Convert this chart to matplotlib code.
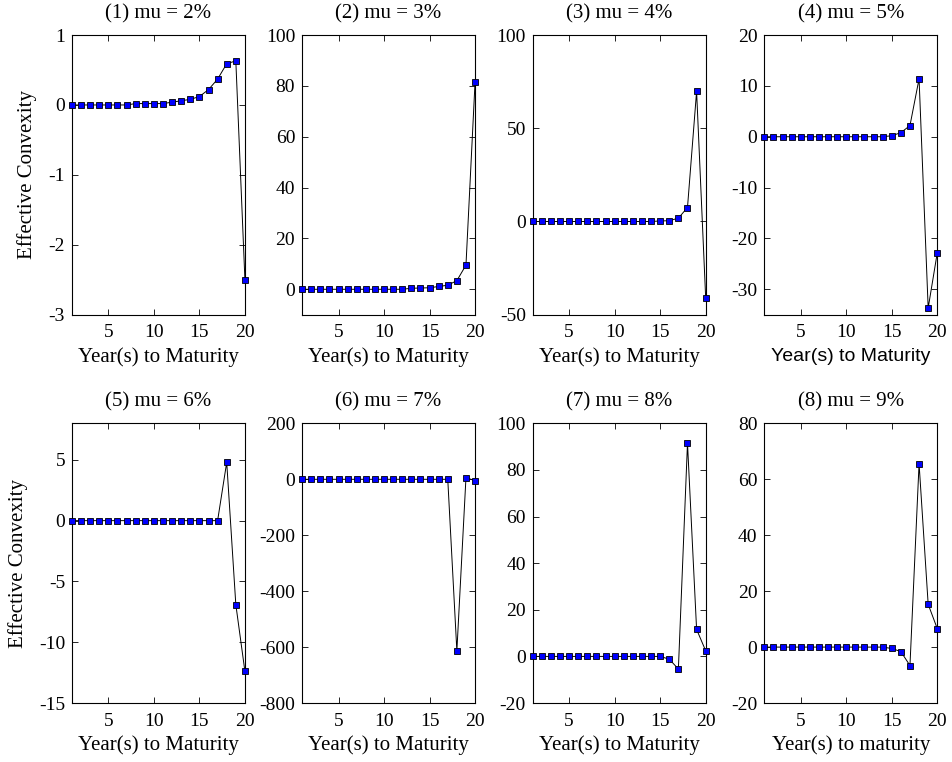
import matplotlib
matplotlib.use("Agg")
import matplotlib.pyplot as plt
import numpy as np

plt.rcParams['font.family'] = ['Liberation Serif', 'DejaVu Serif']
plt.rcParams['font.size'] = 14
plt.rcParams['axes.unicode_minus'] = False

years = list(range(1, 21))
titles = ["(1) mu = 2%", "(2) mu = 3%", "(3) mu = 4%", "(4) mu = 5%",
          "(5) mu = 6%", "(6) mu = 7%", "(7) mu = 8%", "(8) mu = 9%"]

conv_2 = [0, 0, 0, 0, 0, 0, 0, 0.02, 0.02, 0.02, 0.02, 0.04, 0.06, 0.08,
          0.12, 0.22, 0.37, 0.59, 0.63, -2.50]
conv_3 = [0, 0, 0, 0, 0, 0, 0, 0, 0, 0, 0, 0, 0.4, 0.5, 0.6, 1.1, 1.6,
          3.4, 9.5, 81.6]
conv_4 = [0, 0, 0, 0, 0, 0, 0, 0, 0, 0, 0, 0, 0, 0, 0.3, 0.4, 1.8, 7.5,
          69.8, -41.2]
conv_5 = [0, 0, 0, 0, 0, 0, 0, 0, 0, 0, 0, 0, 0, 0, 0.2, 0.8, 2.2, 11.4,
          -33.7, -22.8]
conv_6 = [0] * 17 + [4.8, -6.9, -12.4]
conv_7 = [0] * 17 + [-614, 6, -5]
conv_8 = [0] * 15 + [-1.2, -5.4, 91.5, 11.6, 2.4]
conv_9 = [0] * 14 + [-0.5, -1.6, -6.6, 65.6, 15.3, 6.6]

series = [conv_2, conv_3, conv_4, conv_5, conv_6, conv_7, conv_8, conv_9]
ylims = [(-3, 1), (-10, 100), (-50, 100), (-35, 20),
         (-15, 8), (-800, 200), (-20, 100), (-20, 80)]
yticks = [[-3, -2, -1, 0, 1], [0, 20, 40, 60, 80, 100], [-50, 0, 50, 100],
          [-30, -20, -10, 0, 10, 20], [-15, -10, -5, 0, 5],
          [-800, -600, -400, -200, 0, 200], [-20, 0, 20, 40, 60, 80, 100],
          [-20, 0, 20, 40, 60, 80]]
xlabels = ["Year(s) to Maturity"] * 7 + ["Year(s) to maturity"]

fig = plt.figure(figsize=(9.53, 7.62), dpi=100)
lefts = [0.0755, 0.317, 0.559, 0.802]
bottoms = [0.587, 0.0774]
w, h = 0.1815, 0.367

for i in range(8):
    r, c = divmod(i, 4)
    ax = fig.add_axes([lefts[c], bottoms[r], w, h])
    ax.plot(years, series[i], color='black', lw=0.7, marker='s',
            markersize=5, markerfacecolor='blue', markeredgecolor='black',
            markeredgewidth=0.6, clip_on=False, zorder=3)
    ax.set_xlim(1, 20)
    ax.set_ylim(*ylims[i])
    ax.set_xticks([5, 10, 15, 20])
    ax.set_yticks(yticks[i])
    ax.tick_params(direction='in', top=True, right=True, length=4, width=0.6,
                   labelsize=14)
    ax.tick_params(axis='x', pad=7)
    ax.tick_params(axis='y', pad=5)
    for s in ax.spines.values():
        s.set_linewidth(0.8)
    ax.set_title(titles[i], fontsize=15, pad=12)
    if i == 3:
        ax.set_xlabel(xlabels[i], fontsize=14, family='Liberation Sans',
                      labelpad=5)
    else:
        ax.set_xlabel(xlabels[i], fontsize=15, labelpad=4)
    if c == 0:
        ax.set_ylabel("Effective Convexity", fontsize=15, labelpad=8)

fig.savefig("out.png", dpi=100)
